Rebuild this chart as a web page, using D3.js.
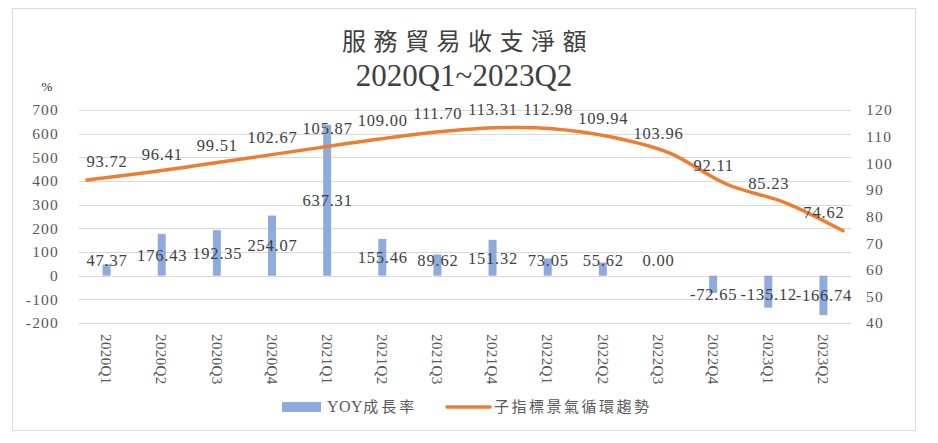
<!DOCTYPE html>
<html>
<head>
<meta charset="utf-8">
<script src="https://cdn.jsdelivr.net/npm/d3@7"></script>
<style>
  body { margin: 0; background: #fff; }
  svg { display: block; }
</style>
</head>
<body>
<svg id="chart" width="938" height="443"></svg>
<script>
const quarters = ["2020Q1", "2020Q2", "2020Q3", "2020Q4", "2021Q1", "2021Q2", "2021Q3",
    "2021Q4", "2022Q1", "2022Q2", "2022Q3", "2022Q4", "2023Q1", "2023Q2"];
const yoyValues = [47.37, 176.43, 192.35, 254.07, 637.31, 155.46, 89.62,
    151.32, 73.05, 55.62, 0.00, -72.65, -135.12, -166.74];
const trendValues = [93.72, 96.41, 99.51, 102.67, 105.87, 109.00, 111.70,
    113.31, 112.98, 109.94, 103.96, 92.11, 85.23, 74.62];
const leftTicks = [-200, -100, 0, 100, 200, 300, 400, 500, 600, 700];
const rightTicks = [40, 50, 60, 70, 80, 90, 100, 110, 120];
const titleLines = ["服務貿易收支淨額", "2020Q1~2023Q2"];
const seriesNames = [["YOY", "成長率"], ["", "子指標景氣循環趨勢"]];

const svg = d3.select("#chart");
const serif = "'Liberation Serif', 'Times New Roman', 'Noto Sans CJK TC', serif";
const cjk = "'Liberation Serif', 'Noto Sans CJK TC', sans-serif";
const axisColor = "#595959";
const labelColor = "#404040";
const barColor = "#8FAADC";
const lineColor = "#ED7D31";

const plot = { left: 79, right: 851, top: 110, bottom: 323 };

// Chart frame
svg.append("rect")
    .attr("width", 938).attr("height", 443).attr("fill", "#fff");
svg.append("rect")
    .attr("x", 12.5).attr("y", 8.5)
    .attr("width", 903).attr("height", 422)
    .attr("fill", "none").attr("stroke", "#d9d9d9");

const x = d3.scaleBand()
    .domain(quarters)
    .range([plot.left, plot.right]);

// the line sits on its own (secondary) horizontal axis
const xLine = d3.scalePoint()
    .domain(quarters)
    .range([87, 843]);

const yLeft = d3.scaleLinear()
    .domain([-200, 700])
    .range([plot.bottom, plot.top]);

const yRight = d3.scaleLinear()
    .domain([40, 120])
    .range([plot.bottom, plot.top]);

// Gridlines
svg.append("g")
    .selectAll("line")
    .data(leftTicks)
    .join("line")
    .attr("x1", plot.left).attr("x2", plot.right)
    .attr("y1", d => Math.round(yLeft(d)) + 0.5)
    .attr("y2", d => Math.round(yLeft(d)) + 0.5)
    .attr("stroke", "#d9d9d9")
    .attr("stroke-width", 1.2);

// Left axis
const leftAxis = d3.axisLeft(yLeft)
    .tickValues(leftTicks)
    .tickFormat(d => String(d))
    .tickSize(0).tickPadding(0);
svg.append("g")
    .attr("transform", "translate(59,0)")
    .call(leftAxis)
    .call(g => g.select(".domain").remove())
    .call(g => g.selectAll("text")
        .attr("font-family", serif)
        .attr("font-size", 15.5)
        .attr("letter-spacing", 1.2)
        .attr("fill", axisColor));

svg.append("text")
    .attr("x", 47).attr("y", 86)
    .attr("dy", "0.35em")
    .attr("text-anchor", "middle")
    .attr("font-family", serif)
    .attr("font-size", 13)
    .attr("fill", "#262626")
    .text("%");

// Right axis
const rightAxis = d3.axisRight(yRight)
    .tickValues(rightTicks)
    .tickFormat(d => String(d))
    .tickSize(0).tickPadding(0);
svg.append("g")
    .attr("transform", "translate(866,0)")
    .call(rightAxis)
    .call(g => g.select(".domain").remove())
    .call(g => g.selectAll("text")
        .attr("font-family", serif)
        .attr("font-size", 15.5)
        .attr("letter-spacing", 1.2)
        .attr("fill", axisColor));

// Category labels, rotated
svg.append("g")
    .selectAll("text")
    .data(quarters)
    .join("text")
    .attr("transform", d => `translate(${x(d) + x.bandwidth() / 2},334) rotate(90)`)
    .attr("dy", "0.35em")
    .attr("font-family", serif)
    .attr("font-size", 15)
    .attr("letter-spacing", 0.4)
    .attr("fill", axisColor)
    .text(d => d);

// Bars
const barWidth = x.bandwidth() * 0.145;
const bars = quarters.map((q, i) => ({ q, v: yoyValues[i] }));
svg.append("g")
    .selectAll("rect")
    .data(bars)
    .join("rect")
    .attr("x", d => x(d.q) + x.bandwidth() / 2 - barWidth / 2)
    .attr("width", barWidth)
    .attr("y", d => Math.min(yLeft(d.v), yLeft(0)))
    .attr("height", d => Math.abs(yLeft(d.v) - yLeft(0)))
    .attr("fill", barColor);

// Trend line
const points = quarters.map((q, i) => ({ q, v: trendValues[i] }));
const line = d3.line()
    .x(d => xLine(d.q))
    .y(d => yRight(d.v))
    .curve(d3.curveCatmullRom.alpha(0.5));

svg.append("path")
    .datum(points)
    .attr("d", line)
    .attr("fill", "none")
    .attr("stroke", lineColor)
    .attr("stroke-width", 3.5)
    .attr("stroke-linecap", "round");

// Bar labels: centred in the bar, kept clear of the zero line
svg.append("g")
    .selectAll("text")
    .data(bars)
    .join("text")
    .attr("x", d => x(d.q) + x.bandwidth() / 2 + 0.5)
    .attr("y", d => d.v >= 0
        ? Math.min(yLeft(d.v / 2), yLeft(0) - 15)
        : Math.max(yLeft(d.v / 2), yLeft(0) + 19))
    .attr("dy", "0.35em")
    .attr("text-anchor", "middle")
    .attr("font-family", serif)
    .attr("font-size", 16.5)
    .attr("letter-spacing", 0.8)
    .attr("fill", labelColor)
    .text(d => d.v.toFixed(2));

// Line labels
svg.append("g")
    .selectAll("text")
    .data(points)
    .join("text")
    .attr("x", d => x(d.q) + x.bandwidth() / 2 + 0.5)
    .attr("y", d => yRight(d.v) - 19)
    .attr("dy", "0.35em")
    .attr("text-anchor", "middle")
    .attr("font-family", serif)
    .attr("font-size", 16.5)
    .attr("letter-spacing", 0.8)
    .attr("fill", labelColor)
    .text(d => d.v.toFixed(2));

// Title
svg.append("text")
    .attr("x", 464 + 4)
    .attr("y", 42)
    .attr("dy", "0.35em")
    .attr("text-anchor", "middle")
    .attr("font-family", cjk)
    .attr("font-size", 24)
    .attr("letter-spacing", 7.5)
    .attr("fill", "#404040")
    .text(titleLines[0]);

svg.append("text")
    .attr("x", 464)
    .attr("y", 75)
    .attr("dy", "0.35em")
    .attr("text-anchor", "middle")
    .attr("font-family", serif)
    .attr("font-size", 31)
    .attr("fill", "#404040")
    .text(titleLines[1]);

// Legend
const legend = svg.append("g").attr("font-family", cjk).attr("font-size", 15).attr("fill", axisColor);
legend.append("rect")
    .attr("x", 282).attr("y", 402)
    .attr("width", 39).attr("height", 10)
    .attr("fill", barColor);
const t1 = legend.append("text")
    .attr("x", 327).attr("y", 407)
    .attr("dy", "0.35em");
t1.append("tspan").attr("letter-spacing", 0.5).attr("font-size", 16).text(seriesNames[0][0]);
t1.append("tspan").attr("letter-spacing", 3).text(seriesNames[0][1]);
legend.append("line")
    .attr("x1", 447).attr("x2", 490)
    .attr("y1", 407).attr("y2", 407)
    .attr("stroke", lineColor)
    .attr("stroke-width", 3.5)
    .attr("stroke-linecap", "round");
legend.append("text")
    .attr("x", 494).attr("y", 407)
    .attr("dy", "0.35em")
    .attr("letter-spacing", 2.5)
    .text(seriesNames[1][1]);
</script>
</body>
</html>
